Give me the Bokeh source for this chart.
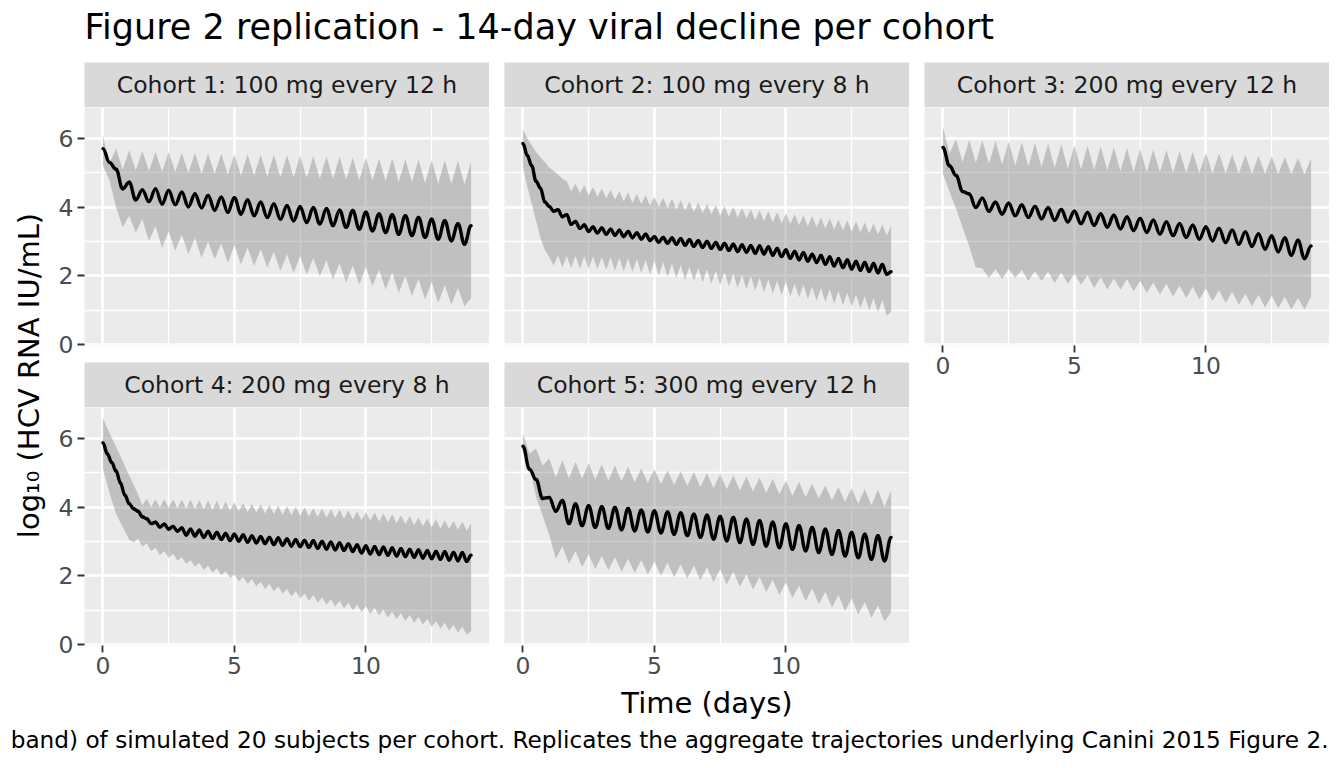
import numpy as np
from math import pi
from bokeh.plotting import figure
from bokeh.layouts import row, column
from bokeh.models import Range1d, FixedTicker
from bokeh.core.properties import value
from bokeh.embed import file_html
from bokeh.resources import INLINE

TITLE = "Figure 2 replication - 14-day viral decline per cohort"
X_LABEL = "Time (days)"
Y_LABEL = "log\u2081\u2080 (HCV RNA IU/mL)"
CAPTION = ("band) of simulated 20 subjects per cohort. Replicates the aggregate "
           "trajectories underlying Canini 2015 Figure 2.")

cohorts = ["Cohort 1: 100 mg every 12 h", "Cohort 2: 100 mg every 8 h",
           "Cohort 3: 200 mg every 12 h", "Cohort 4: 200 mg every 8 h",
           "Cohort 5: 300 mg every 12 h"]

x_ticks = [0, 5, 10]
x_minor = [2.5, 7.5, 12.5]
y_ticks = [0, 2, 4, 6]
y_minor = [1, 3, 5]

# 12-hourly cohorts: value at each dose (t = 0, 0.5 ... 14) and between doses (t = 0.25 ... 13.75)
c1_med_dose = [5.70, 5.10, 4.72, 4.50, 4.53, 4.48, 4.43, 4.38, 4.34, 4.29, 4.27, 4.21, 4.14, 4.09, 4.04,
               4.01, 3.98, 3.95, 3.91, 3.90, 3.85, 3.80, 3.78, 3.75, 3.70, 3.65, 3.60, 3.52, 3.46]
c1_med_mid = [5.30, 4.53, 4.21, 4.16, 4.09, 4.07, 4.01, 3.98, 3.91, 3.85, 3.80, 3.75, 3.70, 3.65,
              3.60, 3.55, 3.51, 3.46, 3.41, 3.36, 3.31, 3.26, 3.21, 3.17, 3.12, 3.07, 3.02, 2.92]
c1_hi_dose = [6.09, 5.70, 5.65, 5.63, 5.60, 5.60, 5.57, 5.57, 5.55, 5.55, 5.53, 5.53, 5.52, 5.51, 5.51,
              5.49, 5.48, 5.48, 5.46, 5.44, 5.44, 5.41, 5.41, 5.39, 5.38, 5.36, 5.36, 5.34, 5.31]
c1_hi_mid = [5.26, 5.09, 5.07, 5.05, 5.02, 5.02, 4.99, 4.97, 4.97, 4.95, 4.92, 4.92, 4.89, 4.87,
             4.87, 4.85, 4.82, 4.82, 4.80, 4.77, 4.77, 4.75, 4.73, 4.73, 4.70, 4.68, 4.68, 4.66]
c1_lo_dose = [5.21, 4.00, 3.75, 3.65, 3.45, 3.30, 3.20, 3.10, 3.00, 2.95, 2.88, 2.82, 2.77, 2.70, 2.63,
              2.57, 2.52, 2.45, 2.37, 2.30, 2.25, 2.18, 2.10, 2.00, 1.92, 1.82, 1.73, 1.65, 1.35]
c1_lo_mid = [4.77, 3.41, 3.26, 3.02, 2.82, 2.73, 2.63, 2.53, 2.48, 2.38, 2.34, 2.29, 2.24, 2.14,
             2.09, 2.04, 1.99, 1.90, 1.80, 1.75, 1.70, 1.60, 1.51, 1.41, 1.31, 1.21, 1.17, 1.12]

c3_med_dose = [5.73, 4.92, 4.38, 4.26, 4.14, 4.11, 4.06, 4.02, 3.98, 3.93, 3.88, 3.84, 3.80, 3.76, 3.71,
               3.67, 3.62, 3.57, 3.52, 3.47, 3.42, 3.38, 3.33, 3.28, 3.22, 3.16, 3.10, 3.04, 2.87]
c3_med_mid = [5.20, 4.45, 3.99, 3.88, 3.80, 3.75, 3.70, 3.66, 3.62, 3.57, 3.52, 3.47, 3.42, 3.37,
              3.32, 3.27, 3.22, 3.17, 3.12, 3.07, 3.02, 2.97, 2.92, 2.86, 2.78, 2.70, 2.60, 2.50]
c3_hi_dose = [6.34, 5.97, 5.96, 5.94, 5.92, 5.90, 5.88, 5.86, 5.84, 5.82, 5.80, 5.78, 5.76, 5.73, 5.71,
              5.69, 5.67, 5.65, 5.62, 5.60, 5.58, 5.56, 5.53, 5.51, 5.49, 5.47, 5.45, 5.43, 5.41]
c3_hi_mid = [5.55, 5.31, 5.28, 5.26, 5.24, 5.21, 5.18, 5.16, 5.14, 5.12, 5.10, 5.08, 5.06, 5.05,
             5.03, 5.02, 5.01, 5.00, 5.00, 4.99, 4.98, 4.98, 4.97, 4.97, 4.97, 4.96, 4.96, 4.95]
c3_lo_dose = [4.97, 3.95, 2.85, 2.22, 2.20, 2.20, 2.18, 2.14, 2.13, 2.09, 2.06, 2.02, 1.96, 1.92, 1.90,
              1.85, 1.81, 1.77, 1.72, 1.68, 1.63, 1.58, 1.54, 1.49, 1.45, 1.42, 1.39, 1.36, 1.40]
c3_lo_mid = [4.45, 3.40, 2.25, 1.93, 1.90, 1.94, 1.85, 1.85, 1.80, 1.77, 1.75, 1.65, 1.60, 1.60,
             1.55, 1.51, 1.46, 1.41, 1.36, 1.31, 1.26, 1.21, 1.16, 1.11, 1.08, 1.06, 1.02, 1.02]

c5_med_dose = [5.77, 4.80, 4.28, 4.19, 4.09, 4.04, 4.01, 3.99, 3.96, 3.91, 3.89, 3.86, 3.83, 3.79, 3.76,
               3.73, 3.70, 3.65, 3.60, 3.56, 3.51, 3.46, 3.41, 3.36, 3.31, 3.26, 3.21, 3.17, 3.12]
c5_med_mid = [5.10, 4.25, 3.88, 3.52, 3.46, 3.41, 3.38, 3.34, 3.31, 3.28, 3.25, 3.21, 3.17, 3.12,
              3.07, 3.02, 2.97, 2.92, 2.87, 2.82, 2.77, 2.73, 2.68, 2.63, 2.58, 2.53, 2.48, 2.44]
c5_hi_dose = [6.14, 5.70, 5.41, 5.36, 5.31, 5.28, 5.24, 5.21, 5.17, 5.12, 5.10, 5.07, 5.04, 5.02, 4.99,
              4.96, 4.92, 4.89, 4.86, 4.82, 4.77, 4.73, 4.68, 4.63, 4.58, 4.55, 4.52, 4.50, 4.48]
c5_hi_mid = [5.55, 5.20, 4.87, 4.84, 4.82, 4.80, 4.77, 4.75, 4.72, 4.70, 4.67, 4.64, 4.61, 4.58,
             4.55, 4.52, 4.48, 4.45, 4.41, 4.37, 4.33, 4.29, 4.25, 4.20, 4.15, 4.10, 4.05, 4.00]
c5_lo_dose = [5.68, 4.30, 3.20, 2.85, 2.72, 2.62, 2.58, 2.54, 2.50, 2.46, 2.42, 2.38, 2.34, 2.30, 2.25,
              2.19, 2.12, 2.05, 1.97, 1.89, 1.81, 1.72, 1.63, 1.54, 1.44, 1.34, 1.24, 1.14, 0.95]
c5_lo_mid = [5.20, 3.75, 2.50, 2.36, 2.26, 2.20, 2.16, 2.12, 2.08, 2.04, 2.00, 1.96, 1.92, 1.87,
             1.82, 1.75, 1.68, 1.60, 1.52, 1.44, 1.36, 1.27, 1.18, 1.08, 0.98, 0.88, 0.78, 0.68]

# 8-hourly cohorts: values every 4 h (t = 0, 1/6 ... 14)
c2_med = [5.85, 5.50, 5.20, 4.75, 4.55, 4.15, 4.02, 3.88, 3.92, 3.72, 3.78, 3.50,
          3.58, 3.38, 3.48, 3.29, 3.42, 3.25, 3.39, 3.21, 3.36, 3.18, 3.33, 3.14,
          3.29, 3.11, 3.25, 3.07, 3.21, 3.03, 3.14, 2.98, 3.12, 2.95, 3.10, 2.92,
          3.08, 2.89, 3.05, 2.86, 3.02, 2.83, 3.00, 2.80, 2.97, 2.77, 2.94, 2.74,
          2.92, 2.71, 2.90, 2.69, 2.88, 2.66, 2.87, 2.64, 2.84, 2.60, 2.80, 2.56,
          2.75, 2.51, 2.71, 2.47, 2.67, 2.43, 2.63, 2.39, 2.59, 2.34, 2.55, 2.29,
          2.50, 2.24, 2.46, 2.20, 2.42, 2.16, 2.39, 2.13, 2.36, 2.09, 2.33, 2.05, 2.12]
c2_hi = [6.26, 6.00, 5.80, 5.60, 5.45, 5.30, 5.15, 5.05, 4.95, 4.82, 4.75, 4.45,
         4.68, 4.40, 4.63, 4.34, 4.58, 4.29, 4.54, 4.25, 4.50, 4.21, 4.46, 4.17,
         4.42, 4.12, 4.38, 4.08, 4.34, 4.04, 4.30, 4.00, 4.27, 3.97, 4.24, 3.93,
         4.20, 3.90, 4.16, 3.86, 4.13, 3.82, 4.10, 3.79, 4.06, 3.75, 4.03, 3.72,
         4.00, 3.69, 3.97, 3.66, 3.94, 3.62, 3.91, 3.59, 3.88, 3.56, 3.85, 3.53,
         3.82, 3.50, 3.79, 3.47, 3.76, 3.44, 3.73, 3.41, 3.70, 3.38, 3.67, 3.35,
         3.64, 3.32, 3.61, 3.29, 3.58, 3.26, 3.55, 3.23, 3.52, 3.20, 3.49, 3.17, 3.46]
c2_lo = [5.16, 4.60, 4.10, 3.60, 3.10, 2.75, 2.55, 2.30, 2.60, 2.25, 2.58, 2.22,
         2.58, 2.21, 2.57, 2.20, 2.56, 2.19, 2.55, 2.17, 2.54, 2.15, 2.53, 2.13,
         2.52, 2.11, 2.50, 2.08, 2.47, 2.05, 2.44, 2.01, 2.40, 1.97, 2.36, 1.93,
         2.32, 1.89, 2.27, 1.85, 2.23, 1.81, 2.19, 1.77, 2.15, 1.73, 2.11, 1.69,
         2.07, 1.65, 2.03, 1.61, 1.99, 1.57, 1.95, 1.53, 1.90, 1.49, 1.86, 1.45,
         1.82, 1.41, 1.78, 1.37, 1.74, 1.33, 1.69, 1.28, 1.65, 1.24, 1.61, 1.20,
         1.56, 1.15, 1.51, 1.10, 1.46, 1.05, 1.41, 1.00, 1.36, 0.94, 1.30, 0.85, 0.95]

c4_med = [5.87, 5.55, 5.30, 5.05, 4.70, 4.35, 4.10, 3.95, 3.88, 3.72, 3.66, 3.52,
          3.56, 3.42, 3.50, 3.36, 3.44, 3.30, 3.39, 3.19, 3.36, 3.16, 3.33, 3.12,
          3.29, 3.09, 3.26, 3.06, 3.23, 3.03, 3.21, 3.01, 3.19, 2.98, 3.16, 2.96,
          3.14, 2.94, 3.12, 2.91, 3.10, 2.89, 3.07, 2.87, 3.05, 2.85, 3.03, 2.83,
          3.02, 2.80, 3.00, 2.78, 2.98, 2.76, 2.96, 2.74, 2.93, 2.71, 2.90, 2.67,
          2.87, 2.64, 2.85, 2.62, 2.83, 2.60, 2.81, 2.58, 2.79, 2.56, 2.77, 2.54,
          2.75, 2.52, 2.73, 2.50, 2.71, 2.48, 2.70, 2.46, 2.68, 2.44, 2.67, 2.42, 2.60]
c4_hi = [6.58, 6.30, 6.02, 5.75, 5.48, 5.20, 4.92, 4.65, 4.38, 4.05, 4.24, 4.00,
         4.23, 3.99, 4.23, 3.98, 4.22, 3.97, 4.21, 3.96, 4.21, 3.95, 4.20, 3.94,
         4.19, 3.92, 4.18, 3.91, 4.16, 3.90, 4.14, 3.88, 4.12, 3.86, 4.10, 3.84,
         4.08, 3.81, 4.06, 3.79, 4.05, 3.77, 4.03, 3.76, 4.01, 3.74, 3.99, 3.72,
         3.97, 3.71, 3.96, 3.69, 3.94, 3.68, 3.92, 3.66, 3.90, 3.64, 3.88, 3.62,
         3.86, 3.60, 3.84, 3.58, 3.81, 3.56, 3.79, 3.53, 3.76, 3.50, 3.73, 3.47,
         3.70, 3.44, 3.67, 3.41, 3.64, 3.38, 3.62, 3.36, 3.60, 3.34, 3.58, 3.31, 3.52]
c4_lo = [5.12, 4.65, 4.20, 3.80, 3.55, 3.30, 3.05, 2.98, 3.08, 2.85, 2.95, 2.72,
         2.82, 2.60, 2.72, 2.52, 2.64, 2.45, 2.55, 2.35, 2.46, 2.27, 2.38, 2.18,
         2.30, 2.10, 2.22, 2.02, 2.14, 1.94, 2.04, 1.84, 1.97, 1.77, 1.90, 1.70,
         1.83, 1.62, 1.76, 1.55, 1.69, 1.48, 1.62, 1.41, 1.55, 1.34, 1.49, 1.28,
         1.44, 1.22, 1.38, 1.16, 1.33, 1.11, 1.28, 1.06, 1.22, 1.00, 1.17, 0.95,
         1.12, 0.90, 1.07, 0.85, 1.02, 0.79, 0.96, 0.74, 0.91, 0.69, 0.86, 0.64,
         0.81, 0.58, 0.75, 0.52, 0.69, 0.46, 0.64, 0.41, 0.58, 0.35, 0.52, 0.29, 0.40]


def interleave(at_dose, mid):
    out = []
    for a, b in zip(at_dose, mid):
        out += [a, b]
    out.append(at_dose[-1])
    return out


t12 = np.arange(57) * 0.25
t8 = np.arange(85) / 6.0

series = [
    (t12, interleave(c1_lo_dose, c1_lo_mid), interleave(c1_hi_dose, c1_hi_mid), interleave(c1_med_dose, c1_med_mid)),
    (t8, c2_lo, c2_hi, c2_med),
    (t12, interleave(c3_lo_dose, c3_lo_mid), interleave(c3_hi_dose, c3_hi_mid), interleave(c3_med_dose, c3_med_mid)),
    (t8, c4_lo, c4_hi, c4_med),
    (t12, interleave(c5_lo_dose, c5_lo_mid), interleave(c5_hi_dose, c5_hi_mid), interleave(c5_med_dose, c5_med_mid)),
]

# ggplot-like 5% expansion of the shared scales
y_min = min(min(s[1]) for s in series)
y_max = max(max(s[2]) for s in series)
y_pad = 0.05 * (y_max - y_min)
x_pad = 0.05 * 14

FONT = "DejaVu Sans"
FRAME_W, FRAME_H, STRIP_H = 405, 238, 45
XAXIS_H = 38
YLAB_W = 48
TOTAL_W = YLAB_W + 441 + 420 + 420
PAGE_W = 1340
BODY_H = STRIP_H + FRAME_H + 17 + STRIP_H + FRAME_H + XAXIS_H
HEADER_H, FOOTER_H = 62, 84


def style_axis(axis):
    axis.axis_line_color = None
    axis.major_tick_line_color = "#333333"
    axis.major_tick_line_width = 1.8
    axis.major_tick_out = 7
    axis.major_tick_in = 0
    axis.minor_tick_line_color = None
    axis.major_label_standoff = 4
    axis.major_label_text_font = FONT
    axis.major_label_text_font_size = "23.5px"
    axis.major_label_text_color = "#4D4D4D"


def make_strip(name, left):
    s = figure(frame_width=FRAME_W, frame_height=STRIP_H, x_range=Range1d(0, 1), y_range=Range1d(0, 1),
               x_axis_location=None, y_axis_location=None, min_border_left=left,
               min_border_right=0, min_border_top=0, min_border_bottom=0,
               output_backend="svg", toolbar_location=None)
    s.background_fill_color = "#D9D9D9"
    s.border_fill_color = "white"
    s.outline_line_color = None
    s.grid.visible = False
    s.text(x=[0.5], y=[0.5], text=[name], text_align="center", text_baseline="middle",
           text_font=value(FONT), text_font_size="23.5px", text_color="#1A1A1A")
    return s


def make_panel(idx, show_x, show_y):
    t, lo, hi, med = series[idx]
    left = 36 if show_y else 15
    p = figure(frame_width=FRAME_W, frame_height=FRAME_H,
               x_range=Range1d(-x_pad, 14 + x_pad), y_range=Range1d(y_min - y_pad, y_max + y_pad),
               x_axis_location="below" if show_x else None,
               y_axis_location="left" if show_y else None,
               min_border_left=left, min_border_right=0, min_border_top=0,
               min_border_bottom=XAXIS_H if show_x else 17,
               output_backend="svg", toolbar_location=None)
    p.background_fill_color = "#EBEBEB"
    p.border_fill_color = "white"
    p.outline_line_color = None
    p.xgrid.ticker = FixedTicker(ticks=x_ticks, minor_ticks=x_minor)
    p.ygrid.ticker = FixedTicker(ticks=y_ticks, minor_ticks=y_minor)
    p.grid.grid_line_color = "white"
    p.grid.grid_line_width = 2.6
    p.grid.minor_grid_line_color = "white"
    p.grid.minor_grid_line_width = 1.3
    if show_x:
        p.xaxis.ticker = FixedTicker(ticks=x_ticks)
        style_axis(p.xaxis)
    if show_y:
        p.yaxis.ticker = FixedTicker(ticks=y_ticks)
        style_axis(p.yaxis)

    p.varea(x=t, y1=lo, y2=hi, fill_color="#7F7F7F", fill_alpha=0.4)
    # median drawn as smooth segments with flat tangents at each peak / trough
    tt = np.asarray(t)
    mm = np.asarray(med)
    k = 0.4 * np.diff(tt)
    p.bezier(x0=tt[:-1], y0=mm[:-1], x1=tt[1:], y1=mm[1:],
             cx0=tt[:-1] + k, cy0=mm[:-1], cx1=tt[1:] - k, cy1=mm[1:],
             line_color="black", line_width=3.4, line_cap="round")
    return column(make_strip(cohorts[idx], left), p, spacing=0)


def text_canvas(w, h):
    c = figure(width=w, height=h, x_range=Range1d(0, w), y_range=Range1d(0, h),
               x_axis_location=None, y_axis_location=None, min_border=0,
               output_backend="svg", toolbar_location=None)
    c.grid.visible = False
    c.outline_line_color = None
    c.background_fill_color = "white"
    c.border_fill_color = "white"
    return c


header = text_canvas(TOTAL_W, HEADER_H)
header.text(x=[84], y=[HEADER_H - 26.5], text=[TITLE], text_align="left", text_baseline="middle",
            text_font=value(FONT), text_font_size="35px", text_color="black")

ylab = text_canvas(YLAB_W, BODY_H)
ylab.text(x=[28.5], y=[BODY_H - 313], text=[Y_LABEL], angle=pi / 2, text_align="center",
          text_baseline="middle", text_font=value(FONT), text_font_size="29px", text_color="black")

footer = text_canvas(PAGE_W, FOOTER_H)
footer.text(x=[706.5], y=[FOOTER_H - 19], text=[X_LABEL], text_align="center", text_baseline="middle",
            text_font=value(FONT), text_font_size="29px", text_color="black")
footer.text(x=[1328], y=[FOOTER_H - 56], text=[CAPTION], text_align="right", text_baseline="middle",
            text_font=value(FONT), text_font_size="23.2px", text_color="black")

col1 = column(make_panel(0, False, True), make_panel(3, True, True), spacing=0)
col2 = column(make_panel(1, False, False), make_panel(4, True, False), spacing=0)
col3 = column(make_panel(2, True, False), spacing=0)

layout = column(header, row(ylab, col1, col2, col3, spacing=0), footer, spacing=0)

open("out.html", "w").write(file_html(layout, INLINE))
